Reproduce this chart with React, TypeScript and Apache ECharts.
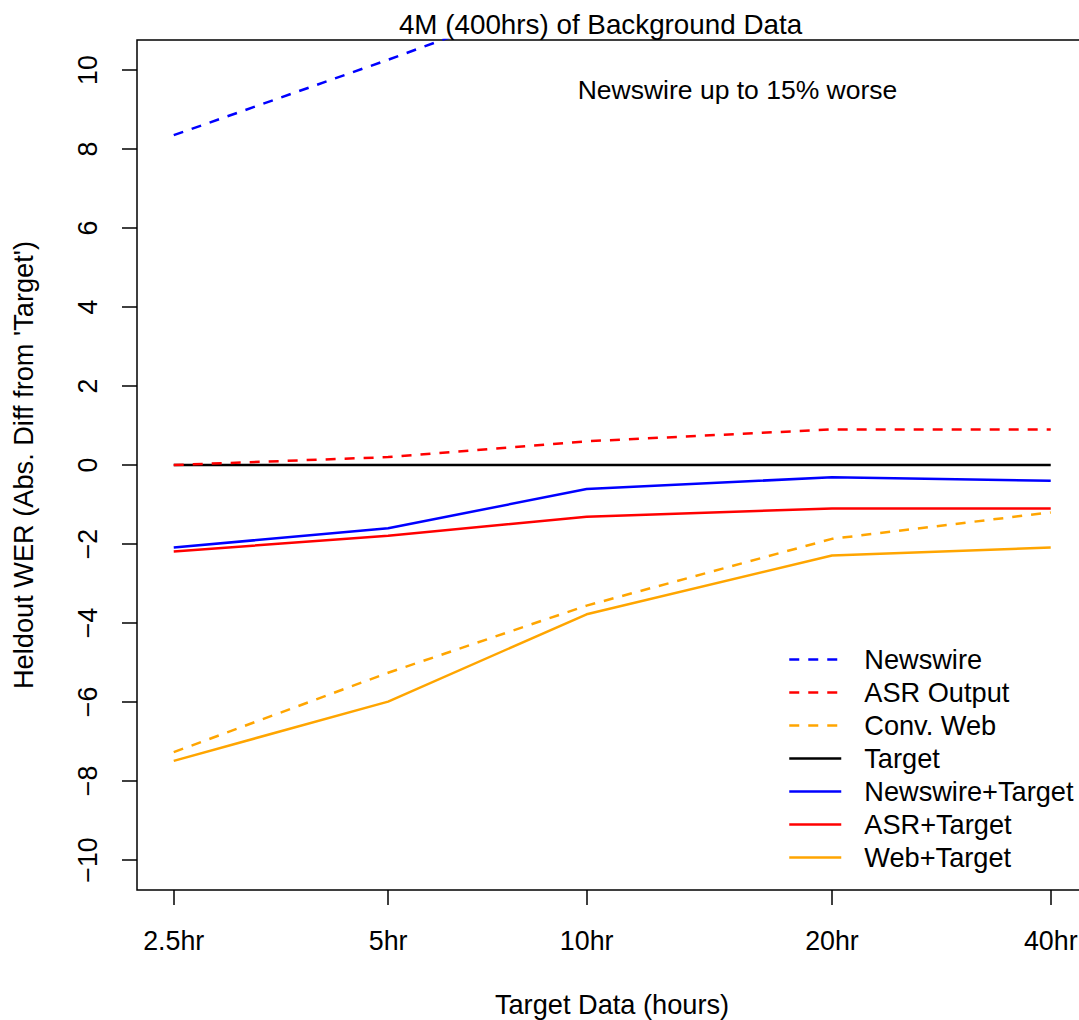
import React, { useEffect, useRef } from "react";
import * as echarts from "echarts";

// Amount of in-domain target data per run (hours), plotted on a log2 scale
const targetHours = [2.5, 5.0, 9.5, 21.0, 42.6];
const hourLabels = ["2.5hr", "5hr", "10hr", "20hr", "40hr"];
const xRangeHours = [2.22, 47.9];

const yTicks = [-10, -8, -6, -4, -2, 0, 2, 4, 6, 8, 10];
const yRange = [-10.76, 10.76];

// Heldout WER, absolute difference from the target-only model
const newswire = [8.35, 10.26, 12.1, 13.2, 13.6];
const asrOutput = [0.0, 0.2, 0.6, 0.9, 0.9];
const convWeb = [-7.27, -5.26, -3.56, -1.87, -1.2];
const targetOnly = [0, 0, 0, 0, 0];
const newswireTarget = [-2.09, -1.6, -0.61, -0.31, -0.4];
const asrTarget = [-2.19, -1.79, -1.31, -1.1, -1.1];
const webTarget = [-7.49, -5.99, -3.78, -2.29, -2.09];

const FONT = "'Liberation Sans', Arial, Helvetica, sans-serif";
const FS = 27.2;
const FS_TICK = 26.8;

const xPos = targetHours.map((h) => Math.log2(h));

type Line = { name: string; values: number[]; color: string; dashed: boolean };

const lines: Line[] = [
  { name: "Newswire", values: newswire, color: "#0000ff", dashed: true },
  { name: "ASR Output", values: asrOutput, color: "#ff0000", dashed: true },
  { name: "Conv. Web", values: convWeb, color: "#ffa500", dashed: true },
  { name: "Target", values: targetOnly, color: "#000000", dashed: false },
  { name: "Newswire+Target", values: newswireTarget, color: "#0000ff", dashed: false },
  { name: "ASR+Target", values: asrTarget, color: "#ff0000", dashed: false },
  { name: "Web+Target", values: webTarget, color: "#ffa500", dashed: false },
];

// draw the flat reference line first so the others sit on top of it
const drawOrder = [3, 0, 1, 2, 4, 5, 6];

function minusFmt(v: number): string {
  return v < 0 ? "\u2212" + Math.abs(v) : String(v);
}

export default function App() {
  const ref = useRef<HTMLDivElement>(null);

  useEffect(() => {
    if (!ref.current) return;
    const chart = echarts.init(ref.current, undefined, { renderer: "svg" });

    const series = drawOrder.map((i) => {
      const l = lines[i];
      return {
        name: l.name,
        type: "line",
        data: l.values.map((v, k) => [xPos[k], v]),
        symbol: "none",
        clip: true,
        lineStyle: {
          color: l.color,
          width: 2.5,
          type: l.dashed ? [10, 9] : "solid",
        },
        itemStyle: { color: l.color },
      };
    });

    chart.setOption({
      animation: false,
      backgroundColor: "#ffffff",
      textStyle: { fontFamily: FONT },
      grid: {
        left: 137,
        top: 40,
        width: 950,
        height: 850,
        outerBoundsMode: "none",
        containLabel: false,
        show: true,
        borderColor: "#000",
        borderWidth: 1.5,
        backgroundColor: "transparent",
      },
      xAxis: {
        type: "value",
        min: Math.log2(xRangeHours[0]),
        max: Math.log2(xRangeHours[1]),
        axisLine: { show: false, onZero: false },
        splitLine: { show: false },
        axisTick: {
          show: true,
          length: 15,
          customValues: xPos,
          lineStyle: { color: "#000", width: 1.5 },
        },
        axisLabel: {
          customValues: xPos,
          formatter: (v: number) => {
            const i = xPos.findIndex((p) => Math.abs(p - v) < 1e-6);
            return i >= 0 ? hourLabels[i] : "";
          },
          color: "#000",
          fontSize: FS_TICK,
          fontFamily: FONT,
          margin: 37,
        },
        name: "Target Data (hours)",
        nameLocation: "middle",
        nameGap: 101,
        nameTextStyle: { color: "#000", fontSize: FS, fontFamily: FONT },
      },
      yAxis: {
        type: "value",
        min: yRange[0],
        max: yRange[1],
        axisLine: { show: false, onZero: false },
        splitLine: { show: false },
        axisTick: {
          show: true,
          length: 15,
          customValues: yTicks,
          lineStyle: { color: "#000", width: 1.5 },
        },
        axisLabel: {
          customValues: yTicks,
          formatter: (v: number) => minusFmt(v),
          rotate: 90,
          color: "#000",
          fontSize: FS_TICK,
          fontFamily: FONT,
          margin: 36,
        },
        name: "Heldout WER (Abs. Diff from 'Target')",
        nameLocation: "middle",
        nameGap: 100,
        nameRotate: 90,
        nameTextStyle: { color: "#000", fontSize: FS, fontFamily: FONT },
      },
      legend: {
        orient: "vertical",
        left: 788,
        top: 646,
        padding: 0,
        itemWidth: 52,
        itemHeight: 14,
        itemGap: 6,
        data: lines.map((l) => l.name),
        selectedMode: false,
        itemStyle: { opacity: 0 },
        lineStyle: { width: 2.5 },
        textStyle: {
          color: "#000",
          fontSize: FS,
          fontFamily: FONT,
          lineHeight: 27,
          padding: [0, 0, 0, 18],
        },
      },
      graphic: [
        {
          type: "text",
          x: 600.5,
          y: 24,
          style: {
            text: "4M (400hrs) of Background Data",
            fill: "#000",
            fontSize: 27.8,
            fontFamily: FONT,
            align: "center",
            verticalAlign: "middle",
          },
        },
        {
          type: "text",
          x: 737.5,
          y: 89.5,
          style: {
            text: "Newswire up to 15% worse",
            fill: "#000",
            fontSize: 26.5,
            fontFamily: FONT,
            align: "center",
            verticalAlign: "middle",
          },
        },
      ],
      series,
    });

    return () => {
      chart.dispose();
    };
  }, []);

  return (
    <div
      ref={ref}
      style={{ position: "absolute", left: 0, top: 0, width: 1079, height: 1020 }}
    />
  );
}
